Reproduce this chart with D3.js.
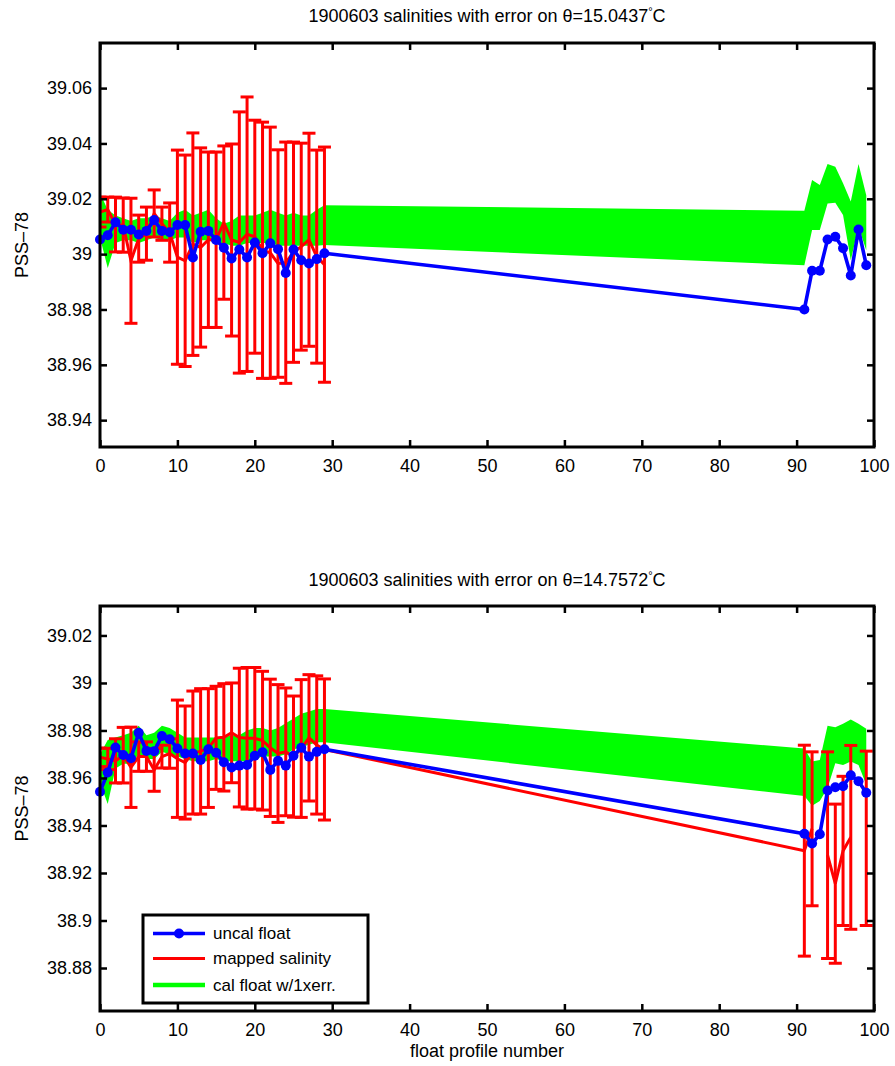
<!DOCTYPE html>
<html>
<head>
<meta charset="utf-8">
<script src="https://cdn.jsdelivr.net/npm/d3@7/dist/d3.min.js"></script>
<style>
  html, body { margin: 0; padding: 0; background: #fff; }
  text { font-family: "Liberation Sans", Arial, Helvetica, sans-serif; fill: #000; }
</style>
</head>
<body>
<svg id="chart" width="895" height="1066"></svg>
<script>
// Float profile numbers that have data (profiles 30-90 are missing)
const profileNo = [0,1,2,3,4,5,6,7,8,9,10,11,12,13,14,15,16,17,18,19,20,21,22,23,24,25,26,27,28,29,
                   91,92,93,94,95,96,97,98,99];

// Upper panel: theta = 15.0437 C
const topUncal = [39.0053,39.0068,39.0115,39.0088,39.0088,39.0071,39.0084,39.0123,39.0084,39.0079,
                  39.0105,39.0105,38.9988,39.0081,39.0084,39.0051,39.0023,38.9984,39.0017,38.9988,
                  39.0042,39.0003,39.0039,39.0018,38.9932,39.0017,38.9978,38.9966,38.9982,39.0003,
                  38.9800,38.9940,38.9940,39.0053,39.0063,39.0021,38.9923,39.0089,38.9960];
const topMapped = [39.0152,39.0161,39.0107,39.0105,38.9976,39.0056,39.0074,39.0147,39.0110,39.0078,
                   38.9989,38.9976,39.0036,39.0024,39.0052,39.0052,39.0114,39.0051,39.0042,39.0072,
                   39.0063,39.0014,39.0005,38.9966,38.9969,39.0007,39.0027,39.0052,38.9991,38.9962,
                   null,null,null,null,null,null,null,null,null];
const topMappedErr = [0.0054,0.0045,0.0099,0.0098,0.0226,0.0085,0.0096,0.0085,0.0060,0.0107,
                      0.0387,0.0382,0.0402,0.0360,0.0317,0.0317,0.0277,0.0347,0.0472,0.0496,
                      0.0421,0.0463,0.0454,0.0411,0.0436,0.0398,0.0374,0.0385,0.0385,0.0425,
                      null,null,null,null,null,null,null,null,null];
const topCalHi = [39.022,39.016,39.014,39.013,39.012,39.013,39.013,39.014,39.013,39.012,
                  39.015,39.016,39.014,39.015,39.016,39.013,39.011,39.012,39.014,39.014,
                  39.014,39.015,39.016,39.015,39.014,39.015,39.014,39.014,39.016,39.0177,
                  39.0157,39.0268,39.0250,39.0326,39.0316,39.0256,39.0190,39.0326,39.0213];
const topCalLo = [39.006,38.995,39.004,39.005,39.005,39.004,39.005,39.006,39.005,39.005,
                  39.006,39.006,39.004,39.005,39.005,39.004,39.004,39.003,39.003,39.004,
                  39.004,39.004,39.004,39.003,39.003,39.003,39.003,39.003,39.003,39.0033,
                  38.9960,39.0087,39.0087,39.0183,39.0186,39.0141,38.9978,39.0099,39.0014];

// Lower panel: theta = 14.7572 C
const botUncal = [38.9542,38.9623,38.9728,38.9697,38.9683,38.9790,38.9714,38.9713,38.9777,38.9763,
                  38.9724,38.9703,38.9703,38.9676,38.9721,38.9706,38.9666,38.9644,38.9652,38.9655,
                  38.9694,38.9708,38.9634,38.9672,38.9652,38.9694,38.9727,38.9690,38.9710,38.9721,
                  38.9365,38.9324,38.9363,38.9547,38.9561,38.9565,38.9611,38.9586,38.9538];
const botMapped = [38.9687,38.9680,38.9672,38.9696,38.9645,38.9690,38.9690,38.9634,38.9690,38.9703,
                   38.9681,38.9665,38.9707,38.9712,38.9726,38.9769,38.9771,38.9790,38.9770,38.9767,
                   38.9767,38.9757,38.9727,38.9703,38.9710,38.9690,38.9724,38.9769,38.9739,38.9720,
                   38.9294,38.9386,null,38.9275,38.9155,38.9293,38.9350,null,38.9346];
const botMappedErr = [0.0039,0.0045,0.0093,0.0117,0.0169,0.0062,0.0062,0.0090,0.0048,0.0062,
                      0.0247,0.0238,0.0259,0.0264,0.0250,0.0217,0.0226,0.0210,0.0292,0.0298,
                      0.0298,0.0292,0.0289,0.0290,0.0269,0.0255,0.0290,0.0266,0.0291,0.0297,
                      0.0444,0.0324,null,0.0435,0.0335,0.0314,0.0387,null,0.0367];
const botCalHi = [38.970,38.976,38.977,38.978,38.979,38.982,38.978,38.979,38.982,38.981,
                  38.979,38.977,38.977,38.977,38.977,38.977,38.977,38.978,38.978,38.980,
                  38.981,38.981,38.980,38.981,38.983,38.985,38.987,38.988,38.989,38.989,
                  38.9724,38.9669,38.9676,38.9820,38.9814,38.9828,38.9846,38.9828,38.9807];
const botCalLo = [38.958,38.949,38.964,38.966,38.966,38.970,38.968,38.968,38.971,38.970,
                  38.969,38.968,38.967,38.967,38.967,38.968,38.967,38.967,38.967,38.967,
                  38.968,38.969,38.969,38.969,38.970,38.972,38.973,38.974,38.975,38.975,
                  38.9524,38.9483,38.9503,38.9558,38.9662,38.9655,38.9669,38.9655,38.9572];

// Axis ticks and labels
const xTicks = [0,10,20,30,40,50,60,70,80,90,100];
const topYTicks = [38.94,38.96,38.98,39,39.02,39.04,39.06];
const botYTicks = [38.88,38.9,38.92,38.94,38.96,38.98,39,39.02];
const topTitle = "1900603 salinities with error on \u03B8=15.0437";
const botTitle = "1900603 salinities with error on \u03B8=14.7572";
const yLabel = "PSS\u201378";
const xLabel = "float profile number";
const legendLabels = ["uncal float", "mapped salinity", "cal float w/1xerr."];

const BLUE = "#0000ff", RED = "#ff0000", GREEN = "#00ff00";
const FONT = 18;

const svg = d3.select("#chart");

function panel(cfg) {
  const {top, bottom, yDomain, yTicks, uncal, mapped, err, hi, lo, title, titleY, xLabelY, legend, id} = cfg;
  const left = 100, right = 874;
  const x = d3.scaleLinear().domain([0, 100]).range([left, right]);
  const y = d3.scaleLinear().domain(yDomain).range([bottom, top]);

  const rows = profileNo.map((p, i) => ({p, u: uncal[i], m: mapped[i], e: err[i], hi: hi[i], lo: lo[i]}));

  const g = svg.append("g");
  g.append("clipPath").attr("id", id).append("rect")
    .attr("x", left).attr("y", top).attr("width", right - left).attr("height", bottom - top);
  const plot = g.append("g").attr("clip-path", `url(#${id})`);

  // calibrated float +/- 1 error band
  plot.append("path")
    .datum(rows)
    .attr("fill", GREEN)
    .attr("d", d3.area().x(d => x(d.p)).y0(d => y(d.lo)).y1(d => y(d.hi)));

  // mapped salinity with error bars
  const withErr = rows.filter(d => d.m != null);
  const cap = 6.5;
  const eb = plot.append("g").attr("stroke", RED).attr("stroke-width", 3).attr("fill", "none");
  withErr.forEach(d => {
    const y1 = y(d.m + d.e), y0 = y(d.m - d.e), xc = x(d.p);
    eb.append("line").attr("x1", xc).attr("x2", xc).attr("y1", y1).attr("y2", y0);
    eb.append("line").attr("x1", xc - cap).attr("x2", xc + cap).attr("y1", y1).attr("y2", y1);
    eb.append("line").attr("x1", xc - cap).attr("x2", xc + cap).attr("y1", y0).attr("y2", y0);
  });
  plot.append("path")
    .datum(rows)
    .attr("fill", "none").attr("stroke", RED).attr("stroke-width", 3)
    .attr("d", d3.line().defined(d => d.m != null).x(d => x(d.p)).y(d => y(d.m)));

  // uncalibrated float
  plot.append("path")
    .datum(rows)
    .attr("fill", "none").attr("stroke", BLUE).attr("stroke-width", 3.6)
    .attr("stroke-linejoin", "round")
    .attr("d", d3.line().x(d => x(d.p)).y(d => y(d.u)));
  g.append("g").selectAll("circle").data(rows).join("circle")
    .attr("cx", d => x(d.p)).attr("cy", d => y(d.u)).attr("r", 5).attr("fill", BLUE);

  // axes: ticks point inward on all four sides
  const fmt = d => String(+d.toFixed(2));
  const styleAxis = sel => {
    sel.select(".domain").remove();
    sel.selectAll(".tick line").attr("stroke", "#000").attr("stroke-width", 2.5);
    sel.selectAll(".tick text").attr("font-size", FONT).attr("font-family", null);
  };
  g.append("g").attr("transform", `translate(0,${bottom})`)
    .call(d3.axisBottom(x).tickValues(xTicks).tickFormat(fmt).tickSize(-7).tickPadding(12))
    .call(styleAxis);
  g.append("g").attr("transform", `translate(0,${top})`)
    .call(d3.axisTop(x).tickValues(xTicks).tickFormat("").tickSize(-7))
    .call(styleAxis);
  g.append("g").attr("transform", `translate(${left},0)`)
    .call(d3.axisLeft(y).tickValues(yTicks).tickFormat(fmt).tickSize(-7).tickPadding(8))
    .call(styleAxis);
  g.append("g").attr("transform", `translate(${right},0)`)
    .call(d3.axisRight(y).tickValues(yTicks).tickFormat("").tickSize(-7))
    .call(styleAxis);

  g.append("rect")
    .attr("x", left).attr("y", top).attr("width", right - left).attr("height", bottom - top)
    .attr("fill", "none").attr("stroke", "#000").attr("stroke-width", 3);

  // title with superscript degree sign
  const t = g.append("text").attr("x", (left + right) / 2).attr("y", titleY)
    .attr("text-anchor", "middle").attr("font-size", FONT);
  t.append("tspan").text(title);
  t.append("tspan").attr("dy", -7).attr("font-size", 11).text("\u00B0");
  t.append("tspan").attr("dy", 7).text("C");

  // y label
  g.append("text")
    .attr("transform", `translate(28,${(top + bottom) / 2}) rotate(-90)`)
    .attr("text-anchor", "middle").attr("font-size", FONT).text(yLabel);

  if (xLabelY) {
    g.append("text").attr("x", (left + right) / 2).attr("y", xLabelY)
      .attr("text-anchor", "middle").attr("font-size", FONT).text(xLabel);
  }

  if (legend) {
    const lx = 143, ly = 915, lw = 225, lh = 88;
    const lg = g.append("g");
    lg.append("rect").attr("x", lx).attr("y", ly).attr("width", lw).attr("height", lh)
      .attr("fill", "#fff").attr("stroke", "#000").attr("stroke-width", 3);
    const colors = [BLUE, RED, GREEN];
    const widths = [3.6, 3, 4.5];
    const rowY = [933.5, 958.5, 985];
    legendLabels.forEach((lab, i) => {
      lg.append("line").attr("x1", lx + 10).attr("x2", lx + 62)
        .attr("y1", rowY[i]).attr("y2", rowY[i])
        .attr("stroke", colors[i]).attr("stroke-width", widths[i]);
      if (i === 0) {
        lg.append("circle").attr("cx", lx + 36).attr("cy", rowY[i]).attr("r", 5).attr("fill", BLUE);
      }
      lg.append("text").attr("x", lx + 70).attr("y", rowY[i]).attr("dy", "0.35em")
        .attr("font-size", 17).text(lab);
    });
  }
}

panel({
  id: "clipTop", top: 43, bottom: 447, yDomain: [38.9303, 39.0763], yTicks: topYTicks,
  uncal: topUncal, mapped: topMapped, err: topMappedErr, hi: topCalHi, lo: topCalLo,
  title: topTitle, titleY: 22, xLabelY: null, legend: false
});
panel({
  id: "clipBot", top: 606, bottom: 1011, yDomain: [38.8619, 39.0324], yTicks: botYTicks,
  uncal: botUncal, mapped: botMapped, err: botMappedErr, hi: botCalHi, lo: botCalLo,
  title: botTitle, titleY: 586, xLabelY: 1057, legend: true
});
</script>
</body>
</html>
